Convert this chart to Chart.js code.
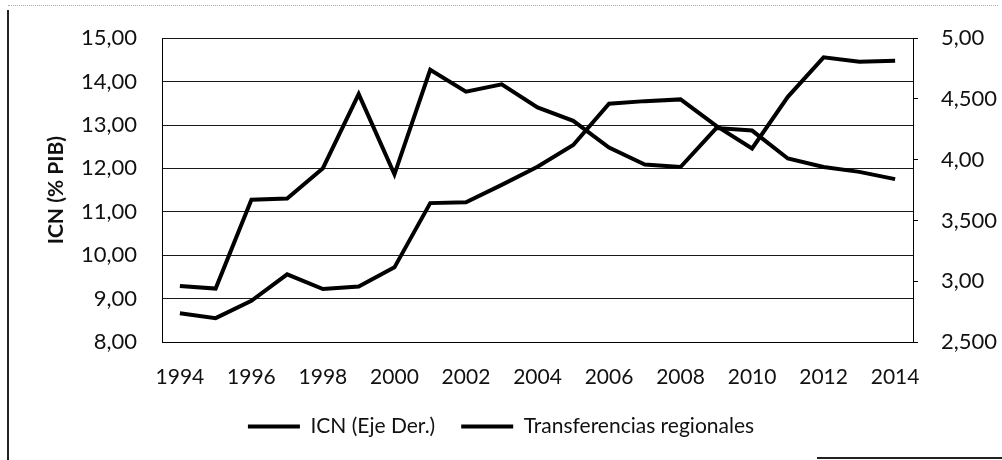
<!DOCTYPE html>
<html>
<head>
<meta charset="utf-8">
<script src="https://cdn.jsdelivr.net/npm/chart.js@4/dist/chart.umd.min.js"></script>
<style>
  html, body { margin: 0; padding: 0; background: #fff; }
  #wrap { position: absolute; left: 0; top: 0; width: 1002px; height: 460px; }
  #frameL { position: absolute; left: 7px; top: 10px; height: 450px; border-left: 2px solid #222; }
  #frameT { position: absolute; left: 8px; top: 5px; width: 990px; border-top: 1px dotted #aaa; }
  #frameB { position: absolute; left: 817px; top: 457px; width: 185px; border-top: 2px solid #222; }
</style>
</head>
<body>
<div id="wrap"><canvas id="c" width="1002" height="460"></canvas></div>
<div id="frameL"></div><div id="frameT"></div><div id="frameB"></div>
<script>
const years = ['1994','1995','1996','1997','1998','1999','2000','2001','2002','2003','2004',
               '2005','2006','2007','2008','2009','2010','2011','2012','2013','2014'];
const icn = [8.66, 8.55, 8.95, 9.56, 9.22, 9.28, 9.72, 11.20, 11.22, 11.62, 12.04,
             12.54, 13.49, 13.55, 13.59, 12.98, 12.46, 13.65, 14.56, 14.46, 14.48];
const transferencias = [2.96, 2.94, 3.67, 3.68, 3.93, 4.54, 3.88, 4.74, 4.56, 4.62, 4.43,
                        4.32, 4.10, 3.96, 3.94, 4.26, 4.24, 4.01, 3.94, 3.90, 3.84];
const leftTickLabels = ['8,00','9,00','10,00','11,00','12,00','13,00','14,00','15,00'];
const rightTickLabels = ['2,500','3,00','3,500','4,00','4,500','5,00'];
const seriesNames = ['ICN (Eje Der.)', 'Transferencias regionales'];
const yTitle = 'ICN (% PIB)';

const FONT = 'Lato, "Open Sans", sans-serif';
const INK = '#111';

new Chart(document.getElementById('c'), {
  type: 'line',
  data: {
    labels: years,
    datasets: [
      { label: seriesNames[0], data: icn, yAxisID: 'y',
        borderColor: '#000', backgroundColor: '#000', borderWidth: 4,
        pointRadius: 0, tension: 0, fill: false },
      { label: seriesNames[1], data: transferencias, yAxisID: 'y1',
        borderColor: '#000', backgroundColor: '#000', borderWidth: 4,
        pointRadius: 0, tension: 0, fill: false }
    ]
  },
  options: {
    responsive: false,
    devicePixelRatio: 1,
    animation: false,
    layout: { padding: { top: 36, left: 0, right: 0, bottom: 13 } },
    plugins: {
      tooltip: { enabled: false },
      legend: {
        position: 'bottom',
        labels: {
          font: { family: FONT, size: 21 },
          color: INK,
          boxWidth: 52,
          boxHeight: 4,
          padding: 26,
          generateLabels(chart) {
            return chart.data.datasets.map((ds, i) => ({
              text: ds.label, fillStyle: '#000', strokeStyle: '#000',
              lineWidth: 0, hidden: false, datasetIndex: i, fontColor: INK
            }));
          }
        }
      }
    },
    scales: {
      x: {
        type: 'category',
        offset: true,
        grid: { display: false, drawTicks: false },
        border: { display: true, color: '#000', width: 1 },
        ticks: {
          autoSkip: false, maxRotation: 0, padding: 23, color: INK,
          font: { family: FONT, size: 21 },
          callback(v, i) { return i % 2 === 0 ? years[i] : ''; }
        },
        afterFit(s) { s.height = 48; }
      },
      y: {
        position: 'left',
        min: 8, max: 15,
        grid: { color: '#1a1a1a', lineWidth: 1, drawTicks: false },
        border: { display: true, color: '#000', width: 1 },
        ticks: {
          stepSize: 1, padding: 25, color: INK,
          font: { family: FONT, size: 22 },
          callback(v, i) { return leftTickLabels[i]; }
        },
        title: {
          display: true, text: yTitle, color: INK,
          font: { family: FONT, size: 21, weight: 'bold' },
          padding: { top: 44, bottom: 0 }
        },
        afterFit(s) { s.width = 162; }
      },
      y1: {
        position: 'right',
        min: 2.5, max: 5,
        grid: { drawOnChartArea: false, drawTicks: true, tickLength: 5, color: '#000' },
        border: { display: true, color: '#000', width: 1 },
        ticks: {
          stepSize: 0.5, padding: 23, color: INK,
          font: { family: FONT, size: 22 },
          callback(v, i) { return rightTickLabels[i]; }
        },
        afterFit(s) { s.width = 89; }
      }
    }
  }
});
</script>
</body>
</html>
